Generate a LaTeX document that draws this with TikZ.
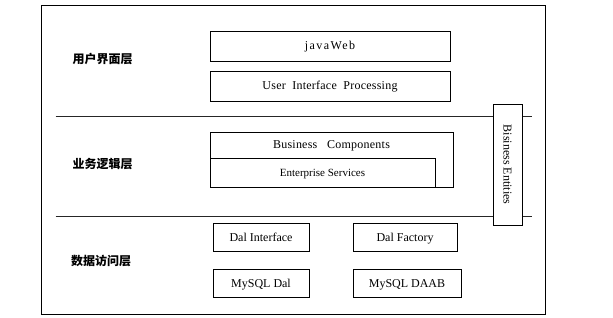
\documentclass[tikz,border=0pt]{standalone}
\usepackage{fontspec}
\setmainfont{Liberation Serif}
\newfontfamily\cjk{Noto Sans CJK SC}
\usetikzlibrary{positioning, shadows}

\begin{document}
\begin{tikzpicture}[x=1pt, y=-1pt,
    box/.style={
        rectangle, draw=black, fill=white, line width=0.7pt, inner sep=0pt,
        text height=9.5pt, text depth=1.5pt,
        font=\fontsize{12}{14}\selectfont, align=center, text=black,
        general shadow={fill=black!45, shadow xshift=0.8pt, shadow yshift=-0.8pt}
    },
    layer/.style={font=\cjk\bfseries\fontsize{12}{14}\selectfont, inner sep=0pt},
    sep/.style={line width=0.8pt, color=black!85},
    wide/.style={font=\fontsize{12}{14}\selectfont\addfontfeature{LetterSpace=2}},
]
\useasboundingbox (0,0) rectangle (613,318);

% Frame and layer separators
\node[box, minimum width=504, minimum height=309] (frame) at (293,159.5) {};
\draw[sep] (55.5,116) -- (532,116);
\draw[sep] (55.5,216) -- (532,216);

% Layer names
\node[layer] (ui)   at (102.5,59)  {用户界面层};
\node[layer] (biz)  at (102.5,164) {业务逻辑层};
\node[layer] (data) at (101,261)   {数据访问层};

% Row 1 - presentation
\node[box, wide, minimum width=240, minimum height=30] (web) at (330,46)
    {\addfontfeature{LetterSpace=12}javaWeb};
\node[box, wide, minimum width=240, minimum height=30] (uip) at (330,86)
    {User\ \ Interface\ \ Processing};

% Row 2 - business
\node[box, minimum width=243, minimum height=55,
      label={[wide, inner sep=0pt, below=9pt]north:Business\ \ \ Components}] (bc) at (331.5,159.5) {};
\node[box, minimum width=225, minimum height=29, font=\fontsize{11}{13}\selectfont] (es) at (322.5,172.5)
    {Enterprise Services};
\node[box, minimum width=29, minimum height=121] (be) at (507.5,164.5) {};
\node[rotate=-90, inner sep=0pt, font=\fontsize{12}{14}\selectfont] (betext) at (be.center) {Bisiness Entities};

% Row 3 - data access
\node[box, minimum width=96,  minimum height=28] (dalif)   at (261,237) {Dal Interface};
\node[box, minimum width=104, minimum height=28] (dalfac)  at (405,237) {Dal Factory};
\node[box, minimum width=96,  minimum height=28] (mydal)   at (261,283) {MySQL Dal};
\node[box, minimum width=108, minimum height=28] (mydaab)  at (407,283) {MySQL DAAB};

\end{tikzpicture}
\end{document}
